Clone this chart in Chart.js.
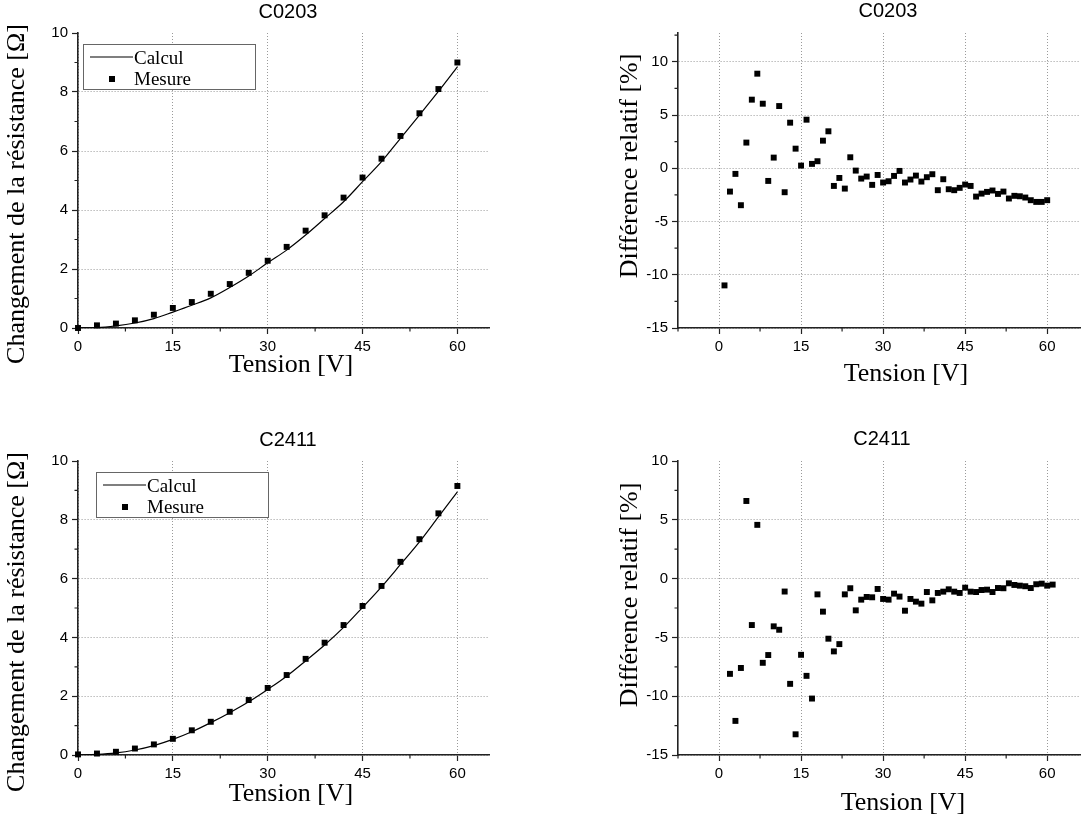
<!DOCTYPE html>
<html>
<head>
<meta charset="utf-8">
<script src="https://cdn.jsdelivr.net/npm/chart.js@4.4.0/dist/chart.umd.min.js"></script>
<style>
  body { margin: 0; background: #fff; }
  #wrap { position: relative; width: 1090px; height: 816px; }
  canvas { position: absolute; }
</style>
</head>
<body>
<div id="wrap">
  <canvas id="tl" width="545" height="408" style="left:0;top:0"></canvas>
  <canvas id="tr" width="545" height="408" style="left:545px;top:0"></canvas>
  <canvas id="bl" width="545" height="408" style="left:0;top:408px"></canvas>
  <canvas id="br" width="545" height="408" style="left:545px;top:408px"></canvas>
</div>
<script>
// resistance change vs voltage (left panels)
const tensionSteps = [0, 3, 6, 9, 12, 15, 18, 21, 24, 27, 30, 33, 36, 39, 42, 45, 48, 51, 54, 57, 60];
const calcC0203 = [0, 0.01, 0.07, 0.17, 0.32, 0.54, 0.77, 1.02, 1.37, 1.76, 2.21, 2.64, 3.15, 3.71, 4.28, 4.96, 5.64, 6.43, 7.22, 8.02, 8.85];
const mesureC0203 = [0, 0.09, 0.15, 0.26, 0.45, 0.68, 0.88, 1.16, 1.49, 1.87, 2.28, 2.75, 3.3, 3.82, 4.42, 5.1, 5.74, 6.51, 7.28, 8.1, 9.0];
const calcC2411 = [0, 0.02, 0.07, 0.17, 0.32, 0.53, 0.79, 1.1, 1.44, 1.81, 2.23, 2.68, 3.2, 3.74, 4.34, 5.02, 5.72, 6.48, 7.25, 8.1, 8.95];
const mesureC2411 = [0.02, 0.05, 0.11, 0.22, 0.36, 0.55, 0.84, 1.13, 1.47, 1.87, 2.28, 2.72, 3.27, 3.82, 4.42, 5.07, 5.75, 6.57, 7.34, 8.22, 9.15];

// relative difference (right panels)
const tensionDiffC0203 = [1, 2, 3, 4, 5, 6, 7, 8, 9, 10, 11, 12, 13, 14, 15, 16, 17, 18, 19, 20,
  21, 22, 23, 24, 25, 26, 27, 28, 29, 30, 31, 32, 33, 34, 35, 36, 37, 38, 39, 40,
  41, 42, 43, 44, 45, 46, 47, 48, 49, 50, 51, 52, 53, 54, 55, 56, 57, 58, 59, 60];
const diffC0203 = [-11.0, -2.19, -0.53, -3.47, 2.41, 6.44, 8.88, 6.06, -1.19, 1.0,
  5.84, -2.25, 4.28, 1.84, 0.25, 4.56, 0.41, 0.66, 2.59, 3.47,
  -1.66, -0.91, -1.91, 1.03, -0.22, -0.97, -0.78, -1.56, -0.63, -1.34,
  -1.22, -0.72, -0.25, -1.34, -1.06, -0.69, -1.25, -0.84, -0.56, -2.06,
  -1.03, -1.97, -2.06, -1.84, -1.53, -1.66, -2.66, -2.38, -2.22, -2.09,
  -2.41, -2.19, -2.84, -2.59, -2.63, -2.75, -3.0, -3.16, -3.16, -3.0];
const tensionDiffC2411 = [2, 3, 4, 5, 6, 7, 8, 9, 10, 11, 12, 13, 14, 15, 16, 17, 18, 19, 20, 21,
  22, 23, 24, 25, 26, 27, 28, 29, 30, 31, 32, 33, 34, 35, 36, 37, 38, 39, 40, 41,
  42, 43, 44, 45, 46, 47, 48, 49, 50, 51, 52, 53, 54, 55, 56, 57, 58, 59, 60, 61];
const diffC2411 = [-8.1, -12.1, -7.6, 6.6, -3.95, 4.57, -7.16, -6.5, -4.06, -4.35,
  -1.1, -8.95, -13.24, -6.48, -8.27, -10.2, -1.34, -2.81, -5.11, -6.19,
  -5.57, -1.34, -0.82, -2.7, -1.79, -1.56, -1.59, -0.88, -1.73, -1.79,
  -1.28, -1.53, -2.73, -1.73, -1.96, -2.13, -1.14, -1.85, -1.22, -1.11,
  -0.91, -1.11, -1.22, -0.77, -1.11, -1.14, -0.97, -0.94, -1.14, -0.8,
  -0.82, -0.4, -0.54, -0.6, -0.65, -0.8, -0.48, -0.43, -0.6, -0.51];

// tick labels
const tensionTicks = [0, 15, 30, 45, 60];
const resistTicks = [0, 2, 4, 6, 8, 10];
const diffTicks = [-15, -10, -5, 0, 5, 10];
const tensionMinorLeft = [7.5, 22.5, 37.5, 52.5];
const tensionMinorRight = [-7.5, 7.5, 22.5, 37.5, 52.5];
const resistMinor = [1, 3, 5, 7, 9];
const diffMinor = [-12.5, -7.5, -2.5, 2.5, 7.5, 12.5];

const SERIF = '"Liberation Serif", "Times New Roman", serif';
const SANS = '"Liberation Sans", Arial, sans-serif';
const W = 545, H = 408;

const toPoints = (xs, ys) => xs.map((x, i) => ({ x: x, y: ys[i] }));

// minor ticks, titles and the boxed legend, Origin style
const decor = {
  id: 'decor',
  afterDraw(chart, args, o) {
    const { ctx, chartArea: a, scales } = chart;
    ctx.save();
    ctx.strokeStyle = '#222';
    ctx.lineWidth = 1.2;
    ctx.beginPath();
    o.xMinor.forEach(v => {
      const px = scales.x.getPixelForValue(v);
      ctx.moveTo(px, a.bottom); ctx.lineTo(px, a.bottom + 3.5);
    });
    o.yMinor.forEach(v => {
      const py = scales.y.getPixelForValue(v);
      ctx.moveTo(a.left - 3.5, py); ctx.lineTo(a.left, py);
    });
    ctx.stroke();

    ctx.fillStyle = '#000';
    ctx.textAlign = 'center';
    ctx.textBaseline = 'middle';
    ctx.font = '20px ' + SANS;
    ctx.fillText(o.title, o.titlePos[0], o.titlePos[1]);
    ctx.font = '26px ' + SERIF;
    ctx.fillText('Tension [V]', o.xTitlePos[0], o.xTitlePos[1]);
    ctx.save();
    ctx.translate(o.yTitlePos[0], o.yTitlePos[1]);
    ctx.rotate(-Math.PI / 2);
    ctx.fillText(o.yTitle, 0, 0);
    ctx.restore();

    if (o.legendAt) {
      const bx = a.left + o.legendAt[0], by = a.top + o.legendAt[1];
      ctx.fillStyle = '#fff';
      ctx.fillRect(bx, by, 172, 45);
      ctx.strokeStyle = '#666';
      ctx.lineWidth = 1;
      ctx.strokeRect(bx + 0.5, by + 0.5, 172, 45);
      ctx.strokeStyle = '#000';
      ctx.lineWidth = 1.2;
      ctx.beginPath();
      ctx.moveTo(bx + 7, by + 13); ctx.lineTo(bx + 50, by + 13);
      ctx.stroke();
      ctx.fillStyle = '#000';
      ctx.fillRect(bx + 26, by + 32, 6, 6);
      ctx.textAlign = 'left';
      ctx.textBaseline = 'alphabetic';
      ctx.font = '19px ' + SERIF;
      ctx.fillText('Calcul', bx + 51, by + 20);
      ctx.fillText('Mesure', bx + 51, by + 41);
    }
    ctx.restore();
  }
};

function axis(min, max, ticks, fitFn) {
  return {
    type: 'linear',
    min: min,
    max: max,
    afterBuildTicks: s => { s.ticks = ticks.map(v => ({ value: v })); },
    afterFit: fitFn,
    ticks: { font: { family: SANS, size: 15 }, color: '#000', padding: 4, maxRotation: 0, autoSkip: false },
    grid: {
      color: c => (c.tick && c.tick.value === max) ? 'rgba(0,0,0,0)' : '#9a9a9a',
      lineWidth: 1,
      tickLength: 6,
      tickColor: '#222',
      tickWidth: 1.2
    },
    border: { color: '#222', width: 1.6, dash: [1, 2] }
  };
}

function makePanel(id, p) {
  const datasets = [];
  if (p.calc) {
    datasets.push({
      type: 'line',
      label: 'Calcul',
      data: toPoints(p.xs, p.calc),
      borderColor: '#000',
      borderWidth: 1.2,
      pointRadius: 0,
      cubicInterpolationMode: 'monotone',
      fill: false
    });
  }
  datasets.push({
    type: 'scatter',
    label: 'Mesure',
    data: toPoints(p.xs, p.ys),
    pointStyle: 'rect',
    pointRadius: 4.2,
    backgroundColor: '#000',
    borderColor: '#000',
    borderWidth: 0,
    clip: false
  });

  return new Chart(document.getElementById(id), {
    data: { datasets: datasets },
    options: {
      responsive: false,
      animation: false,
      events: [],
      layout: { padding: { top: p.area.t, right: W - p.area.r, left: 0, bottom: 0 } },
      plugins: {
        legend: { display: false },
        tooltip: { enabled: false },
        decor: p.decor
      },
      scales: {
        x: axis(p.xRange[0], p.xRange[1], tensionTicks, s => { s.height = H - p.area.b; }),
        y: axis(p.yRange[0], p.yRange[1], p.yTicks, s => { s.width = p.area.l; })
      }
    },
    plugins: [decor]
  });
}

makePanel('tl', {
  xs: tensionSteps, calc: calcC0203, ys: mesureC0203,
  area: { l: 78, r: 489, t: 33, b: 328 },
  xRange: [0, 65], yRange: [0, 10], yTicks: resistTicks,
  decor: {
    title: 'C0203', titlePos: [288, 12],
    xTitlePos: [291, 365], yTitle: 'Changement de la résistance [Ω]', yTitlePos: [17, 194],
    xMinor: tensionMinorLeft, yMinor: resistMinor, legendAt: [5, 11]
  }
});

makePanel('tr', {
  xs: tensionDiffC0203, ys: diffC0203,
  area: { l: 133, r: 535, t: 33, b: 328 },
  xRange: [-7.5, 66], yRange: [-15, 12.7], yTicks: diffTicks,
  decor: {
    title: 'C0203', titlePos: [343, 11],
    xTitlePos: [361, 374], yTitle: 'Différence relatif [%]', yTitlePos: [85, 166],
    xMinor: tensionMinorRight, yMinor: diffMinor
  }
});

makePanel('bl', {
  xs: tensionSteps, calc: calcC2411, ys: mesureC2411,
  area: { l: 78, r: 489, t: 53, b: 347 },
  xRange: [0, 65], yRange: [0, 10], yTicks: resistTicks,
  decor: {
    title: 'C2411', titlePos: [288, 32],
    xTitlePos: [291, 386], yTitle: 'Changement de la résistance [Ω]', yTitlePos: [17, 214],
    xMinor: tensionMinorLeft, yMinor: resistMinor, legendAt: [18, 11]
  }
});

makePanel('br', {
  xs: tensionDiffC2411, ys: diffC2411,
  area: { l: 133, r: 535, t: 53, b: 347 },
  xRange: [-7.5, 66], yRange: [-15, 10], yTicks: diffTicks,
  decor: {
    title: 'C2411', titlePos: [337, 31],
    xTitlePos: [358, 395], yTitle: 'Différence relatif [%]', yTitlePos: [85, 187],
    xMinor: tensionMinorRight, yMinor: diffMinor.filter(v => v < 10)
  }
});
</script>
</body>
</html>
